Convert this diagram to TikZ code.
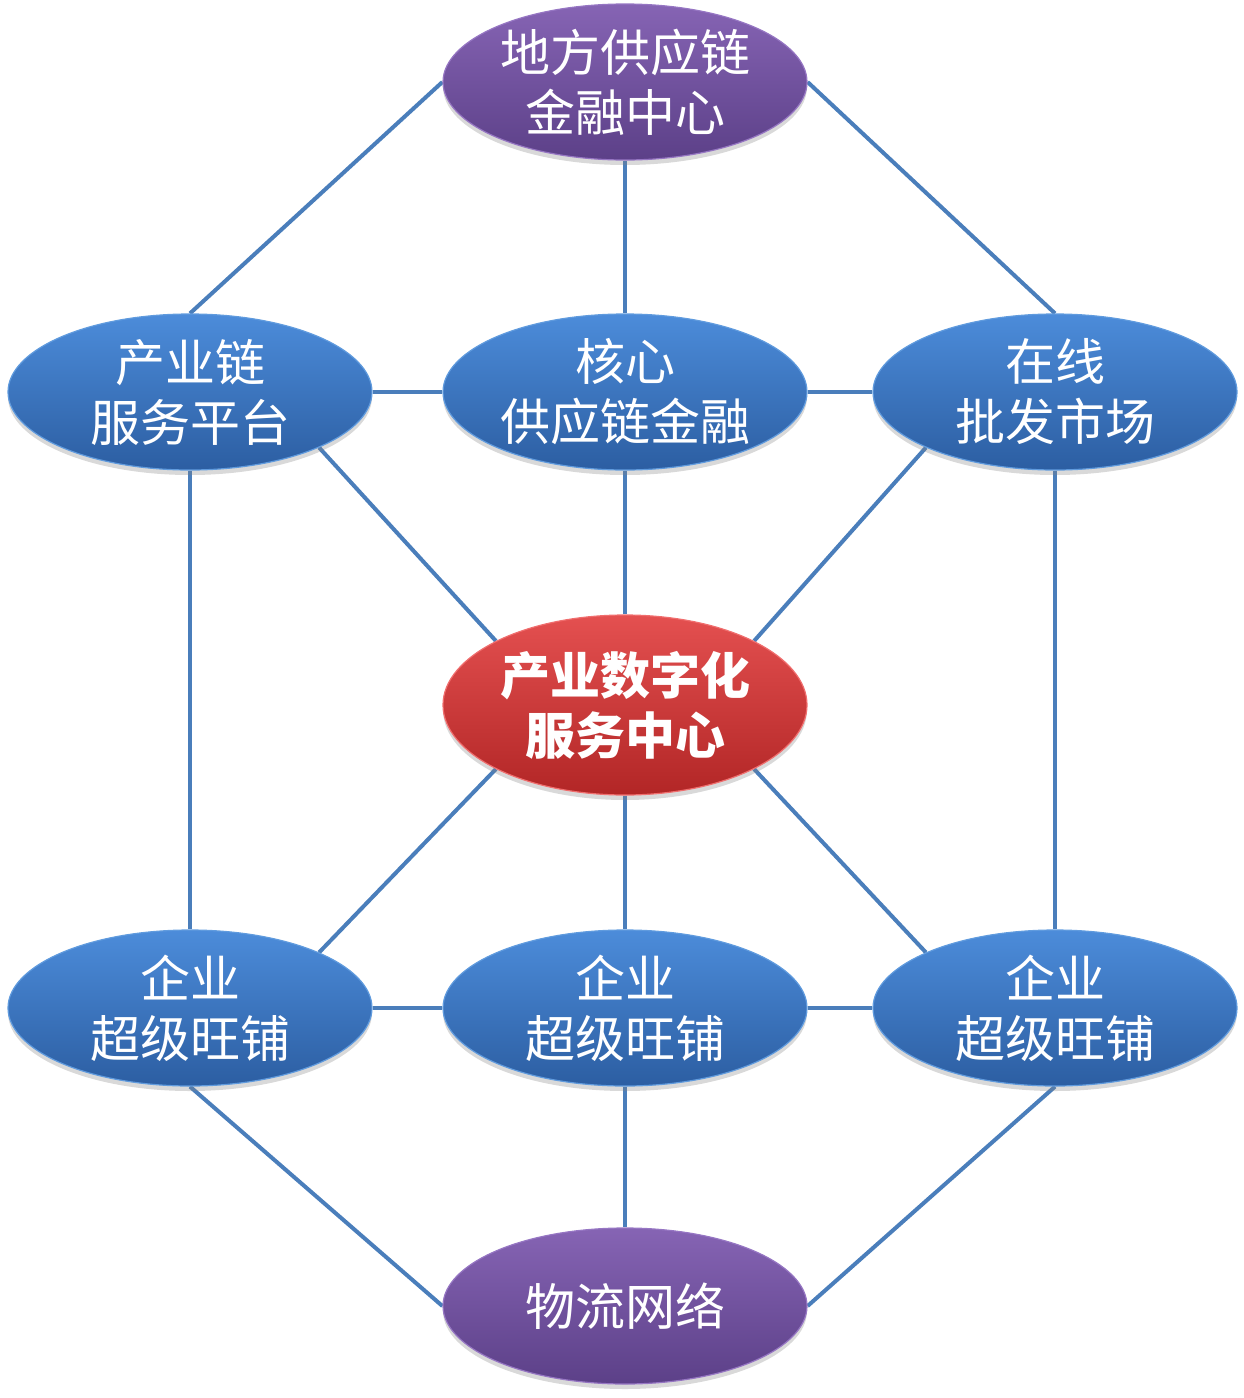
\documentclass[tikz,border=0pt]{standalone}
\usepackage{fontspec}
\newfontfamily\cjk{Noto Sans CJK SC}
\usetikzlibrary{shapes.geometric,shadows,backgrounds}
\definecolor{edgeblue}{RGB}{74,126,187}
\definecolor{bluetop}{RGB}{76,140,218}
\definecolor{bluemid}{RGB}{58,118,196}
\definecolor{bluebot}{RGB}{44,94,162}
\definecolor{blueline}{RGB}{96,155,222}
\definecolor{purptop}{RGB}{134,100,180}
\definecolor{purpmid}{RGB}{115,82,160}
\definecolor{purpbot}{RGB}{92,64,136}
\definecolor{purpline}{RGB}{150,118,195}
\definecolor{redtop}{RGB}{228,80,80}
\definecolor{redmid}{RGB}{212,58,58}
\definecolor{redbot}{RGB}{178,38,38}
\definecolor{redline}{RGB}{240,110,110}
\tikzset{
  bubble/.style={ellipse, minimum width=364pt, minimum height=156pt, inner sep=0pt,
    text=white, align=center, font=\cjk\fontsize{50}{60}\selectfont, line width=1.2pt,
    drop shadow={opacity=0.3, shadow xshift=0pt, shadow yshift=-5pt}},
  bluebubble/.style={bubble, top color=bluetop, middle color=bluemid, bottom color=bluebot, draw=blueline},
  purplebubble/.style={bubble, top color=purptop, middle color=purpmid, bottom color=purpbot, draw=purpline},
  redbubble/.style={bubble, minimum height=180pt, top color=redtop, middle color=redmid, bottom color=redbot, draw=redline,
    font=\cjk\bfseries\fontsize{50}{60}\selectfont},
  link/.style={draw=edgeblue, line width=4pt}
}
\begin{document}
\begin{tikzpicture}[x=1pt,y=-1pt]
\useasboundingbox (0,0) rectangle (1244,1398);
\node[purplebubble] (T) at (625,82) {地方供应链\\金融中心};
\node[bluebubble] (L2) at (190,392) {产业链\\服务平台};
\node[bluebubble] (M2) at (625,392) {核心\\供应链金融};
\node[bluebubble] (R2) at (1055,392) {在线\\批发市场};
\node[redbubble] (C) at (625,705) {产业数字化\\服务中心};
\node[bluebubble] (L4) at (190,1008) {企业\\超级旺铺};
\node[bluebubble] (M4) at (625,1008) {企业\\超级旺铺};
\node[bluebubble] (R4) at (1055,1008) {企业\\超级旺铺};
\node[purplebubble] (B) at (625,1306) {物流网络};
\begin{scope}[on background layer]
\draw[link] (T.west) -- (L2.north);
\draw[link] (T.south) -- (M2.north);
\draw[link] (T.east) -- (R2.north);
\draw[link] (L2.east) -- (M2.west);
\draw[link] (M2.east) -- (R2.west);
\draw[link] (L2.south east) -- (C.north west);
\draw[link] (M2.south) -- (C.north);
\draw[link] (R2.south west) -- (C.north east);
\draw[link] (L2.south) -- (L4.north);
\draw[link] (R2.south) -- (R4.north);
\draw[link] (C.south west) -- (L4.north east);
\draw[link] (C.south) -- (M4.north);
\draw[link] (C.south east) -- (R4.north west);
\draw[link] (L4.east) -- (M4.west);
\draw[link] (M4.east) -- (R4.west);
\draw[link] (L4.south) -- (B.west);
\draw[link] (M4.south) -- (B.north);
\draw[link] (R4.south) -- (B.east);
\end{scope}
\end{tikzpicture}
\end{document}
